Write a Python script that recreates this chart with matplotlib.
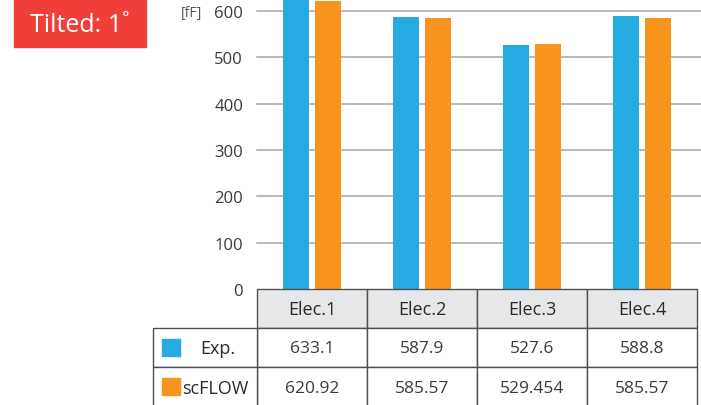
import numpy as np
import matplotlib.pyplot as plt
from matplotlib.patches import Rectangle

categories = ["Elec.1", "Elec.2", "Elec.3", "Elec.4"]
series_names = ["Exp.", "scFLOW"]
exp_labels = ["633.1", "587.9", "527.6", "588.8"]
sim_labels = ["620.92", "585.57", "529.454", "585.57"]
exp_values = [float(v) for v in exp_labels]
sim_values = [float(v) for v in sim_labels]
yticks = [0, 100, 200, 300, 400, 500, 600]

blue = "#27a9e1"
orange = "#f7941d"
txt = "#3a3a3a"
plt.rcParams['font.family'] = ['Open Sans', 'DejaVu Sans']

W, H = 701, 406
fig = plt.figure(figsize=(W / 100, H / 100), dpi=100)

def fx(px):
    return px / W

def fy(py):
    return 1 - py / H

# bar chart area
ax = fig.add_axes([fx(257), fy(290), fx(697) - fx(257), fy(0) - fy(290)])
x = np.arange(len(categories))
bw = 0.23
ax.bar(x - 0.145, exp_values, bw, color=blue, zorder=3)
ax.bar(x + 0.145, sim_values, bw, color=orange, zorder=3)
ax.set_xlim(-0.5, 3.5)
ax.set_ylim(0, 626)
ax.set_yticks(yticks)
ax.set_yticklabels([str(t) for t in yticks], fontsize=12, color=txt)
ax.tick_params(axis='y', length=0, pad=10)
ax.set_xticks([])
for s in ax.spines.values():
    s.set_visible(False)
for t in yticks[1:]:
    ax.axhline(t, xmin=0, xmax=1.01, color="#a6a6a6", lw=1.1, zorder=1, clip_on=False)
fig.text(fx(181), fy(14), "[fF]", fontsize=10, color="#555555", va='center', ha='left')

# title badge
fig.patches.append(Rectangle((fx(14), fy(48)), fx(146) - fx(14), fy(1) - fy(48),
                             transform=fig.transFigure, color="#ef3f38", zorder=0))
fig.text(fx(80), fy(25), "Tilted: 1˚", fontsize=18, color="white", ha='center', va='center')

# data table
edge = "#505050"
col_edges = [257, 367, 477, 587, 697]
row_edges = [290, 329, 368, 408]

def cell(x0, x1, y0, y1, face):
    fig.patches.append(Rectangle((fx(x0), fy(y1)), fx(x1) - fx(x0), fy(y0) - fy(y1),
                                 transform=fig.transFigure, facecolor=face,
                                 edgecolor=edge, lw=1.0, zorder=5))

for i, name in enumerate(categories):
    x0, x1 = col_edges[i], col_edges[i + 1]
    cell(x0, x1, row_edges[0], row_edges[1], "#e6e7e8")
    fig.text(fx((x0 + x1) / 2), fy(310), name, fontsize=13, color="#2a2a2a",
             ha='center', va='center', zorder=6)
    for r, labels in enumerate([exp_labels, sim_labels]):
        cell(x0, x1, row_edges[r + 1], row_edges[r + 2], "white")
        fig.text(fx((x0 + x1) / 2), fy((row_edges[r + 1] + row_edges[r + 2]) / 2 + 1),
                 labels[i], fontsize=12.5, color=txt, ha='center', va='center', zorder=6)

for r, (name, c) in enumerate(zip(series_names, [blue, orange])):
    y0, y1 = row_edges[r + 1], row_edges[r + 2]
    cell(153, 257, y0, y1, "white")
    fig.patches.append(Rectangle((fx(162), fy(y0 + 28)), fx(180) - fx(162), fy(y0 + 11) - fy(y0 + 28),
                                 transform=fig.transFigure, color=c, zorder=6))
    if r == 0:
        fig.text(fx(200), fy((y0 + y1) / 2 + 1), name, fontsize=13, color="#2a2a2a",
                 ha='left', va='center', zorder=6)
    else:
        fig.text(fx(182), fy((y0 + y1) / 2 + 1), name, fontsize=13, color="#2a2a2a",
                 ha='left', va='center', zorder=6)

fig.savefig("out.png", dpi=100)
